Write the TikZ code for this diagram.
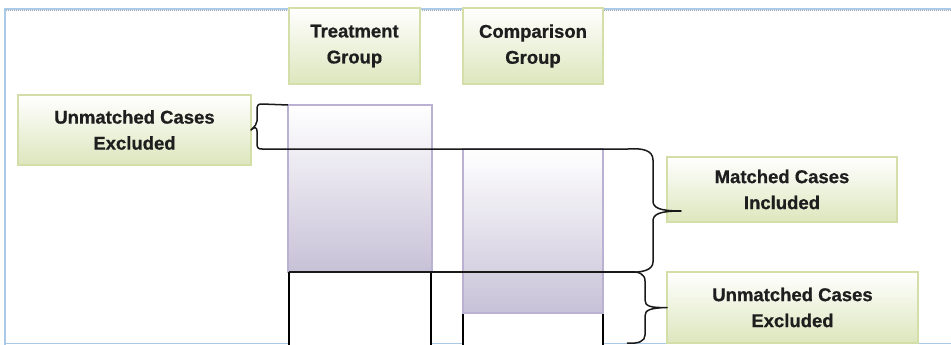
\documentclass[tikz,border=0pt]{standalone}
\usepackage{fontspec}
\setmainfont{Liberation Sans}
\newfontfamily\lblfont[BoldFeatures={FakeBold=0.7}]{Liberation Sans}
\definecolor{boxline}{HTML}{D3DEA8}
\definecolor{boxfill}{HTML}{DDE6BD}
\definecolor{purpline}{HTML}{BBB2D3}
\definecolor{purpfill}{HTML}{C7C1D7}
\definecolor{framecol}{HTML}{A9C9E6}
\definecolor{txt}{HTML}{1E1E1E}
\tikzset{
  labelbox/.style={draw=boxline, line width=1.2pt, top color=white, bottom color=boxfill,
    inner sep=0pt, outer sep=0pt, anchor=north west, align=center, text=txt,
    font=\lblfont\fontsize{18.5}{26}\selectfont\bfseries},
  purpbox/.style={draw=purpline, line width=1.2pt, top color=white, bottom color=purpfill,
    inner sep=0pt, outer sep=0pt, anchor=north west},
  whitebox/.style={fill=white, inner sep=0pt, outer sep=0pt, anchor=north west},
  side/.style={draw=black, line width=1.3pt},
  bracket/.style={draw=black!90, line width=1.5pt, line join=round},
}
\begin{document}
\begin{tikzpicture}[x=1pt,y=-1pt]
\useasboundingbox (0,0) rectangle (951,345);
% frame
\draw[framecol, line width=1.2pt] (5,345) -- (5,9) -- (951,9);
\draw[gray!70, line width=1.5pt, dash pattern=on 1pt off 1pt] (6,10.5) -- (951,10.5);
\draw[framecol, line width=1.2pt] (5,343.5) -- (951,343.5);
% bars
\node[purpbox, minimum width=144pt, minimum height=167pt] (tr) at (288,105) {};
\node[whitebox, minimum width=142pt, minimum height=80pt] (tw) at (289,272) {};
\draw[side] (tw.north west) -- (tw.south west) (tw.north east) -- (tw.south east);
\node[purpbox, minimum width=140pt, minimum height=164pt] (cr) at (463,149) {};
\node[whitebox, minimum width=140pt, minimum height=40pt] (cw) at (463,314) {};
\draw[side] (cw.north west) -- (cw.south west) (cw.north east) -- (cw.south east);
% label boxes
\node[labelbox, minimum width=131pt, minimum height=76pt] (tg) at (289,8) {Treatment\\Group};
\node[labelbox, minimum width=140pt, minimum height=76pt] (cg) at (463,8) {Comparison\\Group};
\node[labelbox, minimum width=233pt, minimum height=70pt] (ul) at (18,95) {Unmatched Cases\\Excluded};
\node[labelbox, minimum width=230pt, minimum height=65pt] (mc) at (667,157) {Matched Cases\\Included};
\node[labelbox, minimum width=251pt, minimum height=71pt] (ur) at (667,272) {Unmatched Cases\\Excluded};
% connector coordinates
\coordinate (lt) at (tr.north west);
\coordinate (mt) at (628,149);
\coordinate (mb) at (628,272);
\coordinate (tb) at (tw.north west);
\coordinate (bb) at (627,343);
\coordinate (mtip) at (681,211);
\coordinate (utip) at (ur.west);
\coordinate (ltip) at (ul.east);
% left bracket
\draw[bracket] (lt) -- (262,104) .. controls (258,104) and (257,105) .. (257,110) -- (257,121)
  .. controls (257,124) and (255,126) .. (ltip)
  .. controls (255,126) and (257,128) .. (257,131) -- (257,143)
  .. controls (257,148) and (258,149) .. (262,149) -- (mt);
% matched bracket
\draw[bracket] (mt) .. controls (642,148) and (653,150) .. (653,160) -- (653,201)
  .. controls (653,208) and (660,211) .. (mtip)
  .. controls (660,211) and (653,214) .. (653,221) -- (653,262)
  .. controls (653,270) and (642,273) .. (mb);
\draw[bracket] (tb) -- (mb);
% lower bracket
\draw[bracket] (mb) .. controls (639,271) and (645,274) .. (645,281) -- (645,300)
  .. controls (645,306) and (650,308) .. (utip)
  .. controls (650,308) and (645,310) .. (645,316) -- (645,335)
  .. controls (645,341) and (639,344) .. (bb);
\end{tikzpicture}
\end{document}
